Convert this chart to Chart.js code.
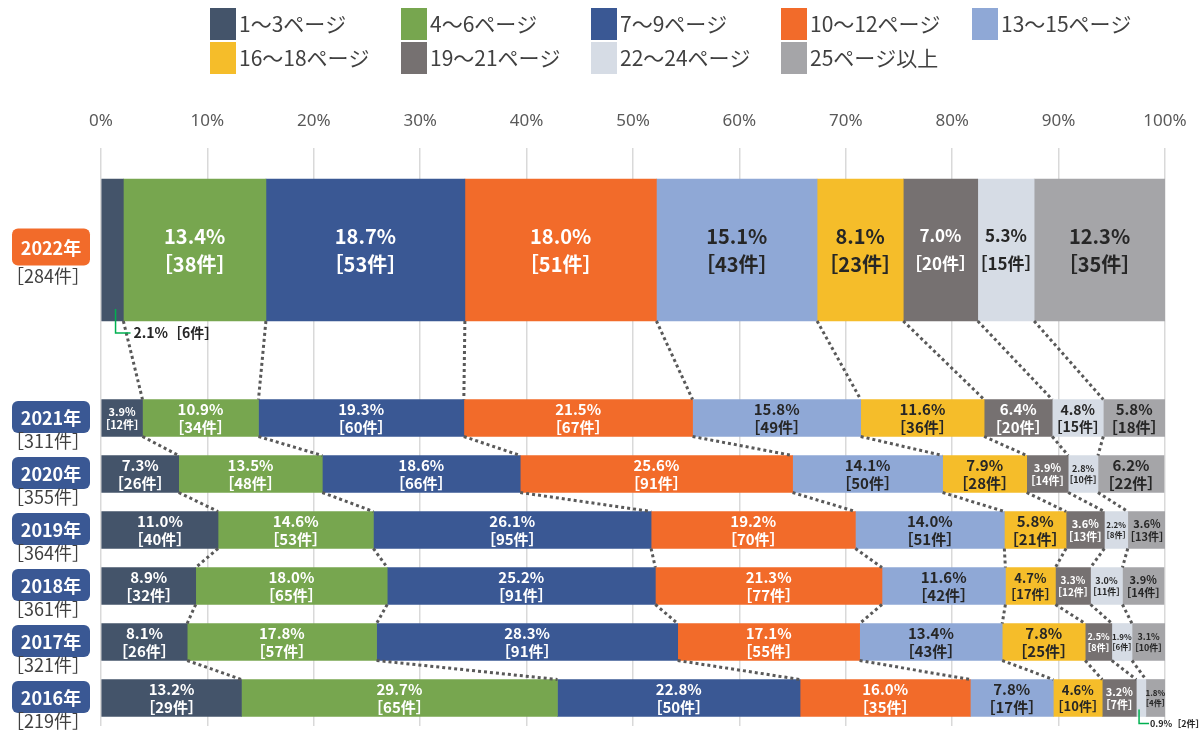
<!DOCTYPE html>
<html>
<head>
<meta charset="utf-8">
<script src="https://cdn.jsdelivr.net/npm/chart.js@4.4.1/dist/chart.umd.min.js"></script>
<style>
  html, body { margin: 0; padding: 0; background: #fff; }
  #wrap { width: 1200px; height: 733px; }
</style>
</head>
<body>
<div id="wrap"><canvas id="myChart"></canvas></div>
<script>
// --------------------------------------------------
// data (rows: 2022, 2021, 2020, 2019, 2018, 2017, 2016)
const yearLabels = ["2022年", "2021年", "2020年", "2019年", "2018年", "2017年", "2016年"];
const yearTotals = [284, 311, 355, 364, 361, 321, 219];
const seriesNames = ["1～3ページ", "4～6ページ", "7～9ページ", "10～12ページ", "13～15ページ",
  "16～18ページ", "19～21ページ", "22～24ページ", "25ページ以上"];
const tickLabels = ["0%", "10%", "20%", "30%", "40%", "50%", "60%", "70%", "80%", "90%", "100%"];

const pct1to3 = [2.1, 3.9, 7.3, 11.0, 8.9, 8.1, 13.2];
const cnt1to3 = [6, 12, 26, 40, 32, 26, 29];
const pct4to6 = [13.4, 10.9, 13.5, 14.6, 18.0, 17.8, 29.7];
const cnt4to6 = [38, 34, 48, 53, 65, 57, 65];
const pct7to9 = [18.7, 19.3, 18.6, 26.1, 25.2, 28.3, 22.8];
const cnt7to9 = [53, 60, 66, 95, 91, 91, 50];
const pct10to12 = [18.0, 21.5, 25.6, 19.2, 21.3, 17.1, 16.0];
const cnt10to12 = [51, 67, 91, 70, 77, 55, 35];
const pct13to15 = [15.1, 15.8, 14.1, 14.0, 11.6, 13.4, 7.8];
const cnt13to15 = [43, 49, 50, 51, 42, 43, 17];
const pct16to18 = [8.1, 11.6, 7.9, 5.8, 4.7, 7.8, 4.6];
const cnt16to18 = [23, 36, 28, 21, 17, 25, 10];
const pct19to21 = [7.0, 6.4, 3.9, 3.6, 3.3, 2.5, 3.2];
const cnt19to21 = [20, 20, 14, 13, 12, 8, 7];
const pct22to24 = [5.3, 4.8, 2.8, 2.2, 3.0, 1.9, 0.9];
const cnt22to24 = [15, 15, 10, 8, 11, 6, 2];
const pct25up = [12.3, 5.8, 6.2, 3.6, 3.9, 3.1, 1.8];
const cnt25up = [35, 18, 22, 13, 14, 10, 4];

// --------------------------------------------------
const seriesColors = ["#44546A", "#77A64F", "#3A5894", "#F26B2A", "#8FA8D6",
  "#F5BD2A", "#767171", "#D6DCE5", "#A5A5A8"];
const labelColors = ["#fff", "#fff", "#fff", "#fff", "#262626",
  "#262626", "#fff", "#262626", "#262626"];
const pctSeries = [pct1to3, pct4to6, pct7to9, pct10to12, pct13to15, pct16to18, pct19to21, pct22to24, pct25up];
const cntSeries = [cnt1to3, cnt4to6, cnt7to9, cnt10to12, cnt13to15, cnt16to18, cnt19to21, cnt22to24, cnt25up];

// category slots: blank on top, 2022, two blank slots as a gap, then 2021..2016
const slotLabels = ["", yearLabels[0], "", "", ...yearLabels.slice(1)];
const rowSlot = [1, 4, 5, 6, 7, 8, 9];
// labels that sit outside their bar with a green leader: [row, series]
const outsideLabels = [[0, 0], [6, 7]];

const FONT = "'Noto Sans CJK JP', 'Noto Sans', sans-serif";
Chart.defaults.font.family = FONT;

const datasets = [];
pctSeries.forEach((vals, s) => {
  const top = slotLabels.map(() => null);
  const rest = slotLabels.map(() => null);
  vals.forEach((v, r) => {
    (r === 0 ? top : rest)[rowSlot[r]] = v;
  });
  datasets.push({ label: seriesNames[s], data: top, backgroundColor: seriesColors[s], barThickness: 142 });
  datasets.push({ label: seriesNames[s], data: rest, backgroundColor: seriesColors[s], barThickness: 37 });
});

function bar(chart, s, r) {
  return chart.getDatasetMeta(s * 2 + (r === 0 ? 0 : 1)).data[rowSlot[r]];
}

// --------------------------------------------------
const decorPlugin = {
  id: "decor",
  afterDatasetsDraw(chart) {
    const ctx = chart.ctx;

    // dotted connectors between rows
    ctx.save();
    ctx.strokeStyle = "#595959";
    ctx.lineWidth = 3;
    ctx.setLineDash([3, 3]);
    for (let r = 0; r < yearLabels.length - 1; r++) {
      for (let s = 0; s < seriesNames.length - 1; s++) {
        const a = bar(chart, s, r);
        const b = bar(chart, s, r + 1);
        ctx.beginPath();
        ctx.moveTo(a.x, a.y + a.height / 2);
        ctx.lineTo(b.x, b.y - b.height / 2);
        ctx.stroke();
      }
    }
    ctx.restore();

    // value labels
    ctx.save();
    ctx.textAlign = "center";
    ctx.textBaseline = "middle";
    for (let r = 0; r < yearLabels.length; r++) {
      for (let s = 0; s < seriesNames.length; s++) {
        const e = bar(chart, s, r);
        const line1 = pctSeries[s][r].toFixed(1) + "%";
        const line2 = "［" + cntSeries[s][r] + "件］";
        const isOut = outsideLabels.some(o => o[0] === r && o[1] === s);
        const cx = (e.x + e.base) / 2;
        const w = Math.abs(e.x - e.base);
        if (isOut) {
          const big = r === 0;
          const lx = cx + (big ? 3 : -2);
          const y0 = e.y + e.height / 2 - (big ? 12 : 7);
          const y1 = e.y + e.height / 2 + (big ? 12 : 7);
          ctx.strokeStyle = "#00B050";
          ctx.lineWidth = 1.5;
          ctx.beginPath();
          ctx.moveTo(lx, y0);
          ctx.lineTo(lx, y1);
          ctx.lineTo(lx + (big ? 15 : 10), y1);
          ctx.stroke();
          ctx.fillStyle = "#262626";
          ctx.textAlign = "left";
          ctx.font = "bold " + (big ? 14 : 9) + "px " + FONT;
          ctx.fillText(line1 + line2, lx + (big ? 18 : 11), y1);
          ctx.textAlign = "center";
          continue;
        }
        const big = r === 0;
        const base = big ? 20 : 15;
        const slack = big ? 0 : 8;
        ctx.font = "bold " + base + "px " + FONT;
        const tw = Math.max(ctx.measureText(line1).width, ctx.measureText(line2).width);
        let size = base;
        if (tw > w + slack) size = Math.max(big ? 17 : 8, Math.floor(base * (w + slack) / tw));
        ctx.font = "bold " + size + "px " + FONT;
        ctx.fillStyle = labelColors[s];
        const gap = big ? 14 : Math.max(5, size * 0.6);
        ctx.fillText(line1, cx, e.y - gap);
        ctx.fillText(line2, cx, e.y + gap);
      }
    }
    ctx.restore();
  },
  afterDraw(chart) {
    const ctx = chart.ctx;
    const yScale = chart.scales.y;

    // year badges + totals
    ctx.save();
    ctx.textAlign = "center";
    ctx.textBaseline = "middle";
    yearLabels.forEach((yl, r) => {
      const y = yScale.getPixelForValue(rowSlot[r]);
      const big = r === 0;
      const h = big ? 37 : 32;
      const by = y - (big ? 3 : 1) - h / 2;
      ctx.fillStyle = big ? "#F26B2A" : "#3A5894";
      ctx.beginPath();
      ctx.roundRect(12, by, 78, h, 6);
      ctx.fill();
      ctx.fillStyle = "#fff";
      ctx.font = "bold 18px " + FONT;
      ctx.fillText(yl, 51, by + h / 2 + 1);
      ctx.fillStyle = "#404040";
      ctx.font = "18px " + FONT;
      ctx.fillText("［" + yearTotals[r] + "件］", 48, y + (big ? 26 : 23));
    });
    ctx.restore();

    // legend
    ctx.save();
    ctx.textAlign = "left";
    ctx.textBaseline = "middle";
    ctx.font = "21px " + FONT;
    const colX = [210, 401, 591, 781, 972];
    const rowY = [24, 58];
    seriesNames.forEach((name, i) => {
      const x = colX[i % 5];
      const y = rowY[Math.floor(i / 5)];
      ctx.fillStyle = seriesColors[i];
      ctx.fillRect(x, y - 16, 26, 32);
      ctx.fillStyle = "#404040";
      ctx.fillText(name, x + 29, y);
    });
    ctx.restore();
  }
};

// --------------------------------------------------
const ctx = document.getElementById("myChart").getContext("2d");
const myChart = new Chart(ctx, {
  type: "bar",
  data: { labels: slotLabels, datasets: datasets },
  options: {
    indexAxis: "y",
    responsive: true,
    maintainAspectRatio: false,
    animation: false,
    layout: { padding: { left: 101, right: 35, top: 100, bottom: 7 } },
    plugins: {
      legend: { display: false },
      tooltip: { enabled: false },
    },
    scales: {
      x: {
        position: "top",
        stacked: true,
        min: 0,
        max: 100,
        afterFit(scale) {
          scale.height = 66;
          scale.paddingLeft = 0;
          scale.paddingRight = 0;
        },
        border: { display: false },
        grid: { color: "#D9D9D9", lineWidth: 1.5, tickLength: 18 },
        ticks: {
          stepSize: 10,
          padding: 17,
          color: "#595959",
          font: { size: 17, family: "'Noto Sans', sans-serif" },
          callback: (v) => tickLabels[Math.round(v / 10)],
        },
      },
      y: {
        stacked: true,
        display: false,
      },
    },
  },
  plugins: [decorPlugin],
});
</script>
</body>
</html>
